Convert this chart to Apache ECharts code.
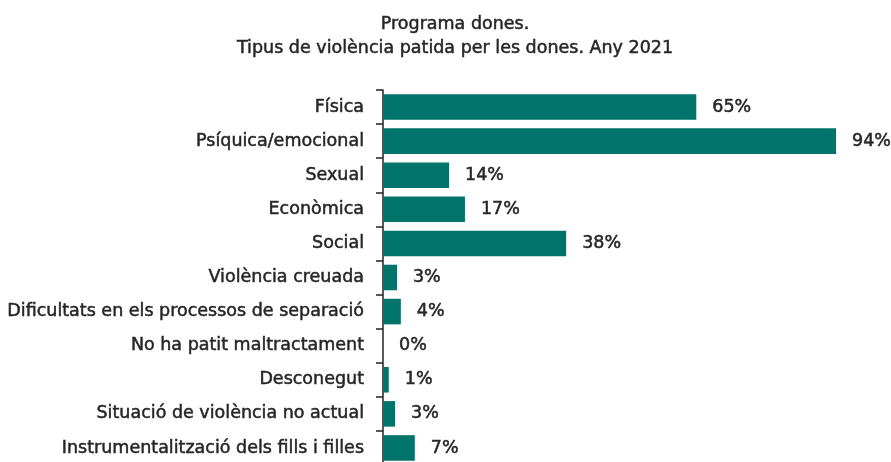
<!DOCTYPE html>
<html>
<head>
<meta charset="utf-8">
<script src="https://cdn.jsdelivr.net/npm/echarts@6/dist/echarts.min.js"></script>
<style>
html,body{margin:0;padding:0;background:#fff;}
#c{width:891px;height:462px;}
</style>
</head>
<body>
<div id="c"></div>
<script>
var categories = [
  "Física",
  "Psíquica/emocional",
  "Sexual",
  "Econòmica",
  "Social",
  "Violència creuada",
  "Dificultats en els processos de separació",
  "No ha patit maltractament",
  "Desconegut",
  "Situació de violència no actual",
  "Instrumentalització dels fills i filles"
];
var values = [65, 94, 13.7, 17, 38, 2.9, 3.7, 0, 1.2, 2.5, 6.6];
var titleLines = ["Programa dones.", "Tipus de violència patida per les dones. Any 2021"];

var FONT = "'DejaVu Sans', sans-serif";
var TXT = '#262626';
var chart = echarts.init(document.getElementById('c'), null, {renderer: 'canvas'});
chart.setOption({
  animation: false,
  backgroundColor: '#fff',
  title: {
    text: titleLines.join('\n'),
    left: 450,
    textAlign: 'center',
    top: 7,
    textStyle: {fontFamily: FONT, fontSize: 17.5, fontWeight: 'normal', color: TXT, lineHeight: 24,
                textBorderColor: TXT, textBorderWidth: 0.5}
  },
  grid: {left: 383, top: 90, width: 482, height: 375, containLabel: false, outerBoundsMode: 'none'},
  xAxis: {
    type: 'value', min: 0, max: 100, show: false
  },
  yAxis: {
    type: 'category',
    inverse: true,
    data: categories,
    axisLine: {show: true, lineStyle: {color: '#222', width: 1.5}},
    axisTick: {show: true, length: 7, lineStyle: {color: '#222', width: 1.5}},
    axisLabel: {fontFamily: FONT, fontSize: 17.5, color: TXT, margin: 19,
                textBorderColor: TXT, textBorderWidth: 0.5}
  },
  series: [{
    type: 'bar',
    data: values,
    barCategoryGap: '25%',
    itemStyle: {color: '#00736a'},
    label: {
      show: true,
      position: 'right',
      distance: 16,
      fontFamily: FONT,
      fontSize: 17.5,
      color: TXT,
      textBorderColor: TXT,
      textBorderWidth: 0.5,
      formatter: function(p){ return Math.round(p.value) + '%'; }
    }
  }]
});
</script>
</body>
</html>
